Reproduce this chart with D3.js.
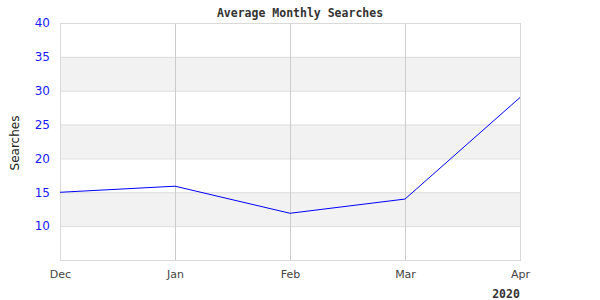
<!DOCTYPE html>
<html><head><meta charset="utf-8">
<script src="https://cdn.jsdelivr.net/npm/d3@7"></script>
<style>body{margin:0;background:#fff}</style>
</head><body>
<svg id="c" width="600" height="300"></svg>
<script>
const categories = ["Dec", "Jan", "Feb", "Mar", "Apr"];
const values = [15, 15.9, 11.9, 14, 29];
const yTicks = [10, 15, 20, 25, 30, 35, 40];
const bands = [[10, 15], [20, 25], [30, 35]];
const title = "Average Monthly Searches";
const yTitle = "Searches";
const yearLabel = "2020";

const svg = d3.select("#c");
const m = {l: 60, r: 80, t: 23, b: 40};
const W = 600, H = 300;
const x = d3.scalePoint().domain(categories).range([m.l, W - m.r]);
const y = d3.scaleLinear().domain([5, 40]).range([H - m.b, m.t]);

// bands
svg.selectAll("rect.band").data(bands).join("rect")
  .attr("x", m.l).attr("width", W - m.r - m.l)
  .attr("y", d => y(d[1])).attr("height", d => y(d[0]) - y(d[1]))
  .attr("fill", "#f2f2f2");

// horizontal grid
const yAxis = d3.axisLeft(y).tickValues(yTicks).tickSize(-(W - m.l - m.r)).tickPadding(10);
const gy = svg.append("g").attr("transform", `translate(${m.l},0)`).call(yAxis);
gy.select(".domain").remove();
gy.selectAll("line").attr("stroke", "#dddddd");
gy.selectAll("text").attr("fill", "#1a1aff").style("font-family", "DejaVu Sans").style("font-size", "12px");

// vertical grid
const xAxis = d3.axisBottom(x).tickSize(-(H - m.t - m.b)).tickPadding(10);
const gx = svg.append("g").attr("transform", `translate(0,${H - m.b})`).call(xAxis);
gx.select(".domain").remove();
gx.selectAll("line").attr("stroke", "#cccccc");
gx.selectAll("text").attr("fill", "#444").style("font-family", "DejaVu Sans").style("font-size", "11px");

// frame
svg.append("rect").attr("x", m.l + 0.5).attr("y", m.t + 0.5)
  .attr("width", W - m.l - m.r).attr("height", H - m.t - m.b)
  .attr("fill", "none").attr("stroke", "#d9d9d9");

// line
svg.append("path").datum(values)
  .attr("d", d3.line().x((d, i) => x(categories[i])).y(d => y(d)))
  .attr("fill", "none").attr("stroke", "#0000ff").attr("stroke-width", 1);

svg.append("text").attr("x", 300).attr("y", 17).attr("text-anchor", "middle")
  .style("font-family", "DejaVu Sans Mono").style("font-weight", "bold").style("font-size", "11.5px")
  .attr("fill", "#333").text(title);

svg.append("text").attr("transform", "translate(19,143) rotate(-90)").attr("text-anchor", "middle")
  .style("font-family", "DejaVu Sans").style("font-size", "12px").attr("fill", "#222").text(yTitle);

svg.append("text").attr("x", 506).attr("y", 298).attr("text-anchor", "middle")
  .style("font-family", "DejaVu Sans Mono").style("font-weight", "bold").style("font-size", "11.5px")
  .attr("fill", "#333").text(yearLabel);
</script>
</body></html>
